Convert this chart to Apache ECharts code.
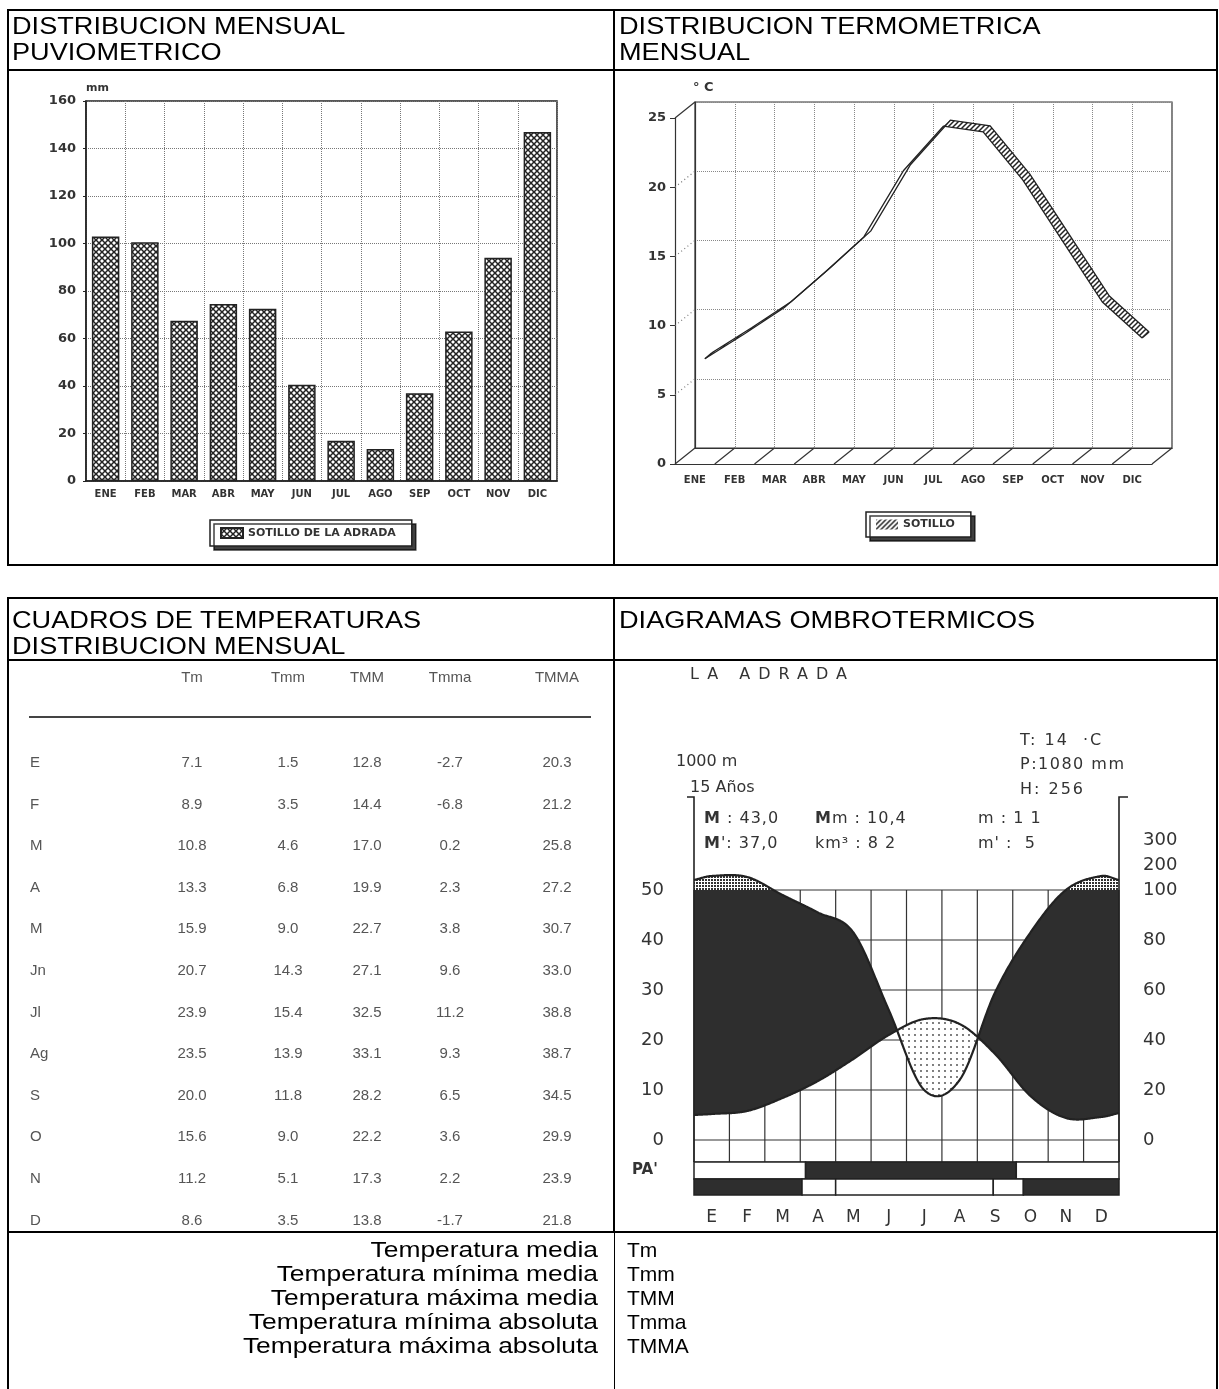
<!DOCTYPE html>
<html>
<head>
<meta charset="utf-8">
<script src="https://cdn.jsdelivr.net/npm/echarts@6/dist/echarts.min.js"></script>
<style>
html, body { margin: 0; padding: 0; background: #fff; }
#page { position: relative; width: 1219px; height: 1389px; overflow: hidden; font-family: "Liberation Sans", Arial, sans-serif; }
#chart { position: absolute; left: 0; top: 0; width: 1219px; height: 1389px; z-index: 1; }
#overlay { position: absolute; left: 0; top: 0; width: 1219px; height: 1389px; z-index: 2; pointer-events: none; }
.ln { position: absolute; background: #000; }
.t { position: absolute; white-space: nowrap; }
.ttl { font-size: 23px; line-height: 26px; color: #000; transform: scaleX(1.18); transform-origin: 0 0; }
.tb { font-family: "Liberation Sans Narrow", "Liberation Sans", sans-serif; font-size: 15px; line-height: 16px; color: #555; }
.lg { font-size: 22px; line-height: 24px; color: #000; transform: scaleX(1.2); transform-origin: 100% 0; }
.lg2 { font-size: 21px; line-height: 24px; color: #000; }
.om { font-family: "DejaVu Sans", sans-serif; color: #333; font-size: 16px; line-height: 18px; }
</style>
</head>
<body>
<div id="page">
  <div id="chart"></div>
  <div id="overlay"></div>
</div>
<script>
// precipitacion mensual (mm) - Sotillo de la Adrada
const meses = ['ENE', 'FEB', 'MAR', 'ABR', 'MAY', 'JUN', 'JUL', 'AGO', 'SEP', 'OCT', 'NOV', 'DIC'];
const lluvia = [103, 100.5, 67.5, 74.5, 72.5, 40.5, 17, 13.5, 37, 63, 94, 147];

// cuadro de temperaturas
const filas = ['E', 'F', 'M', 'A', 'M', 'Jn', 'Jl', 'Ag', 'S', 'O', 'N', 'D'];
const columnas = ['Tm', 'Tmm', 'TMM', 'Tmma', 'TMMA'];
const Tm = [7.1, 8.9, 10.8, 13.3, 15.9, 20.7, 23.9, 23.5, 20.0, 15.6, 11.2, 8.6];
const Tmm = [1.5, 3.5, 4.6, 6.8, 9.0, 14.3, 15.4, 13.9, 11.8, 9.0, 5.1, 3.5];
const TMM = [12.8, 14.4, 17.0, 19.9, 22.7, 27.1, 32.5, 33.1, 28.2, 22.2, 17.3, 13.8];
const Tmma = [-2.7, -6.8, 0.2, 2.3, 3.8, 9.6, 11.2, 9.3, 6.5, 3.6, 2.2, -1.7];
const TMMA = [20.3, 21.2, 25.8, 27.2, 30.7, 33.0, 38.8, 38.7, 34.5, 29.9, 23.9, 21.8];
const leyenda = ['Temperatura media', 'Temperatura mínima media', 'Temperatura máxima media',
  'Temperatura mínima absoluta', 'Temperatura máxima absoluta'];

// diagrama ombrotermico - La Adrada
const letras = ['E', 'F', 'M', 'A', 'M', 'J', 'J', 'A', 'S', 'O', 'N', 'D'];
const tOmbro = [5.2, 5.8, 8.4, 11.8, 16.2, 21.0, 24.2, 23.2, 17.2, 8.8, 4.4, 4.6];
const pOmbro = [156, 152, 98, 91, 83, 52, 20, 24, 59, 83, 100, 156];
const tBordes = [5.0, 5.4];
const pBordes = [140, 140];
const escalaT = [0, 10, 20, 30, 40, 50];
const escalaP = { 0: '0', 20: '20', 40: '40', 60: '60', 80: '80', 100: '100', 110: '200', 120: '300' };
// PA' : [desde mes, hasta mes, 1 = negro]
const pa1 = [[0, 3.15, 0], [3.15, 9.1, 1], [9.1, 12, 0]];
const pa2 = [[0, 3.05, 1], [3.05, 4.0, 0], [4.0, 8.45, 0], [8.45, 9.3, 0], [9.3, 12, 1]];

// ---------- html: marcos, titulos, tabla ----------
const ov = document.getElementById('overlay');
let html = '';
function ln(x, y, w, h) { html += '<div class="ln" style="left:' + x + 'px;top:' + y + 'px;width:' + w + 'px;height:' + h + 'px"></div>'; }
function tx(cls, x, y, s, extra) { html += '<div class="t ' + cls + '" style="left:' + x + 'px;top:' + y + 'px;' + (extra || '') + '">' + s + '</div>'; }

// bloque superior
ln(7, 9, 1211, 2); ln(7, 9, 2, 557); ln(1216, 9, 2, 557); ln(7, 564, 1211, 2);
ln(7, 69, 1211, 2); ln(613, 9, 2, 557);
tx('ttl', 12, 13, 'DISTRIBUCION MENSUAL<br>PUVIOMETRICO');
tx('ttl', 619, 13, 'DISTRIBUCION TERMOMETRICA<br>MENSUAL');
// bloque inferior
ln(7, 597, 1211, 2); ln(7, 597, 2, 792); ln(1216, 597, 2, 792);
ln(7, 659, 1211, 2); ln(613, 597, 2, 636); ln(7, 1231, 1211, 2); ln(614, 1233, 1, 156);
tx('ttl', 12, 607, 'CUADROS DE TEMPERATURAS<br>DISTRIBUCION MENSUAL');
tx('ttl', 619, 607, 'DIAGRAMAS OMBROTERMICOS');

// tabla
const colX = [192, 288, 367, 450, 557];
const valores = [Tm, Tmm, TMM, Tmma, TMMA];
columnas.forEach((c, j) => tx('tb', colX[j] - 40, 669, c, 'width:80px;text-align:center'));
html += '<div class="ln" style="left:29px;top:716px;width:562px;height:2px;background:#444"></div>';
filas.forEach((f, i) => {
  const y = 754 + i * 41.6;
  tx('tb', 30, y, f);
  valores.forEach((col, j) => tx('tb', colX[j] - 40, y, col[i].toFixed(1), 'width:80px;text-align:center'));
});
// leyenda de abreviaturas
leyenda.forEach((s, i) => {
  const y = 1238 + i * 24;
  tx('lg', 100, y, s, 'width:498px;text-align:right');
  tx('lg2', 627, y, columnas[i]);
});
// textos del ombrotermico
tx('om', 690, 665, 'LA ADRADA', 'letter-spacing:8px');
tx('om', 1020, 731, 'T:&nbsp;14&nbsp;&nbsp;·C', 'letter-spacing:2px');
tx('om', 676, 752, '1000 m');
tx('om', 1020, 755, 'P:1080 mm', 'letter-spacing:1.5px');
tx('om', 690, 778, '15 Años');
tx('om', 1020, 780, 'H:&nbsp;256', 'letter-spacing:2px');
tx('om', 704, 809, '<b>M</b> : 43,0', 'letter-spacing:1px');
tx('om', 815, 809, '<b>M</b>m : 10,4', 'letter-spacing:1px');
tx('om', 978, 809, 'm : 1 1', 'letter-spacing:1px');
tx('om', 704, 834, '<b>M</b>\': 37,0', 'letter-spacing:1px');
tx('om', 815, 834, 'km³ : 8 2', 'letter-spacing:1px');
tx('om', 978, 834, 'm\' :&nbsp;&nbsp;5', 'letter-spacing:1px');
tx('om', 632, 1160, '<b>PA\'</b>', 'font-size:15px');
ov.innerHTML = html;

// ---------- tramas ----------
function trama(size, draw) {
  const c = document.createElement('canvas');
  c.width = c.height = size;
  const g = c.getContext('2d');
  g.fillStyle = '#fff';
  g.fillRect(0, 0, size, size);
  draw(g, size);
  return { image: c, repeat: 'repeat' };
}
const patCruz = trama(6, (g, s) => {
  g.strokeStyle = '#222'; g.lineWidth = 1.5;
  g.beginPath(); g.moveTo(0, 0); g.lineTo(s, s); g.moveTo(s, 0); g.lineTo(0, s); g.stroke();
});
const patRayas = trama(5, (g, s) => {
  g.strokeStyle = '#222'; g.lineWidth = 1.5;
  g.beginPath(); g.moveTo(0, s); g.lineTo(s, 0); g.moveTo(-1, 1); g.lineTo(1, -1); g.moveTo(s - 1, s + 1); g.lineTo(s + 1, s - 1); g.stroke();
});
const patPuntos = trama(6, (g) => {
  g.fillStyle = '#444'; g.beginPath(); g.arc(3, 3, 0.9, 0, Math.PI * 2); g.fill();
});
const patDenso = trama(3, (g) => {
  g.fillStyle = '#333'; g.fillRect(0, 0, 2, 2);
});

// ---------- funciones de dibujo ----------
const FONDO = [20, -16];     // profundidad del grafico 3d
const DESP = [-3, 3];
const ANCHO = [-7, 6];
const NEGRO = '#2e2e2e';

function renderSuelo(params, api) {
  const n = meses.length;
  const bw = api.size([1, 0])[0];
  const kids = [];
  for (let k = 0; k <= n; k++) {
    const c = api.coord([Math.min(k, n - 1), 0]);
    const x = k < n ? c[0] - bw / 2 : c[0] + bw / 2;
    kids.push({ type: 'line', shape: { x1: x, y1: c[1], x2: x + FONDO[0], y2: c[1] + FONDO[1] }, style: { stroke: '#333', lineWidth: 1.2 } });
  }
  const x0 = api.coord([0, 0])[0] - bw / 2;
  for (let v = 5; v <= 25; v += 5) {
    const y = api.coord([0, v])[1];
    kids.push({
      type: 'line', shape: { x1: x0, y1: y, x2: x0 + FONDO[0], y2: y + FONDO[1] },
      style: v === 25 ? { stroke: '#333', lineWidth: 1.2 } : { stroke: '#777', lineWidth: 1.2, lineDash: [1, 3] }
    });
  }
  return { type: 'group', children: kids };
}

function renderCinta(params, api) {
  const i = params.dataIndex;
  const pts = Tm.map((v, k) => {
    const c = api.coord([k, v]);
    return [c[0] + DESP[0], c[1] + DESP[1]];
  });
  const fr = pts.map(p => [p[0] + ANCHO[0], p[1] + ANCHO[1]]);
  if (i < Tm.length - 1) {
    const A = pts[i], B = pts[i + 1];
    const s = (B[1] - A[1]) / (B[0] - A[0]);
    const visible = ANCHO[1] - s * ANCHO[0] > 0;
    return { type: 'polygon', shape: { points: [A, B, fr[i + 1], fr[i]] }, style: { fill: visible ? patRayas : '#fff', stroke: null } };
  }
  const n = pts.length - 1;
  return {
    type: 'group', children: [
      { type: 'polyline', shape: { points: pts }, style: { stroke: '#222', lineWidth: 1.3, fill: null } },
      { type: 'polyline', shape: { points: fr }, style: { stroke: '#222', lineWidth: 1.3, fill: null } },
      { type: 'line', shape: { x1: pts[0][0], y1: pts[0][1], x2: fr[0][0], y2: fr[0][1] }, style: { stroke: '#222', lineWidth: 1.3 } },
      { type: 'line', shape: { x1: pts[n][0], y1: pts[n][1], x2: fr[n][0], y2: fr[n][1] }, style: { stroke: '#222', lineWidth: 1.3 } }
    ]
  };
}

// curva suave (hermite) por los puntos mensuales
function curva(xs, ys) {
  const n = xs.length, m = [];
  for (let i = 0; i < n; i++) {
    if (i === 0) m.push((ys[1] - ys[0]) / (xs[1] - xs[0]));
    else if (i === n - 1) m.push((ys[n - 1] - ys[n - 2]) / (xs[n - 1] - xs[n - 2]));
    else m.push((ys[i + 1] - ys[i - 1]) / (xs[i + 1] - xs[i - 1]));
  }
  return function (x) {
    let i = 0;
    while (i < n - 2 && x > xs[i + 1]) i++;
    const h = xs[i + 1] - xs[i], t = (x - xs[i]) / h, t2 = t * t, t3 = t2 * t;
    return (2 * t3 - 3 * t2 + 1) * ys[i] + (t3 - 2 * t2 + t) * h * m[i] + (-2 * t3 + 3 * t2) * ys[i + 1] + (t3 - t2) * h * m[i + 1];
  };
}
// precipitacion en unidades del eje de temperatura (escala 1/10 sobre 100 mm)
function pEscala(p) { return p <= 100 ? p / 2 : 50 + (p - 100) / 20; }

function renderOmbro(params, api) {
  const xs = [0].concat(tOmbro.map((v, i) => i + 0.5), [12]);
  const fT = curva(xs, [tBordes[0]].concat(tOmbro, [tBordes[1]]));
  const fP = curva(xs, [pEscala(pBordes[0])].concat(pOmbro.map(pEscala), [pEscala(pBordes[1])]));
  const N = 600;
  const kids = [];
  const c = (x, v) => api.coord([x, v]);
  const base = -4.4;

  // cuadricula
  for (let k = 0; k <= 12; k++) {
    const a = c(k, base), b = c(k, 50);
    kids.push({ type: 'line', shape: { x1: a[0], y1: a[1], x2: b[0], y2: b[1] }, style: { stroke: '#333', lineWidth: 1.2 } });
  }
  [base, 0, 10, 20, 30, 40, 50].forEach(v => {
    const a = c(0, v), b = c(12, v);
    kids.push({ type: 'line', shape: { x1: a[0], y1: a[1], x2: b[0], y2: b[1] }, style: { stroke: '#333', lineWidth: 1.2 } });
  });

  function bandas(lo, hi, fill) {
    let cur = null;
    const runs = [];
    for (let k = 0; k <= N; k++) {
      const x = 12 * k / N, a = lo(x), b = hi(x);
      if (b > a) { (cur = cur || []).push([x, a, b]); }
      else if (cur) { runs.push(cur); cur = null; }
    }
    if (cur) runs.push(cur);
    runs.forEach(r => {
      const top = r.map(p => c(p[0], p[2]));
      const bot = r.slice().reverse().map(p => c(p[0], p[1]));
      kids.push({ type: 'polygon', shape: { points: top.concat(bot) }, style: { fill: fill, stroke: null } });
    });
  }
  bandas(fT, x => Math.min(fP(x), 50), NEGRO);      // periodo humedo
  bandas(() => 50, fP, patDenso);                  // > 100 mm
  bandas(fP, fT, patPuntos);                       // periodo seco

  const lineaT = [], lineaP = [];
  for (let k = 0; k <= N; k++) {
    const x = 12 * k / N;
    lineaT.push(c(x, fT(x)));
    lineaP.push(c(x, fP(x)));
  }
  kids.push({ type: 'polyline', shape: { points: lineaT }, style: { stroke: '#222', lineWidth: 2.2, fill: null } });
  kids.push({ type: 'polyline', shape: { points: lineaP }, style: { stroke: '#222', lineWidth: 2.2, fill: null } });

  // corchetes laterales
  [[0, -7], [12, 9]].forEach(([x, d]) => {
    const a = c(x, 68.6), b = c(x, base);
    kids.push({ type: 'polyline', shape: { points: [[a[0] + d, a[1]], a, b] }, style: { stroke: '#222', lineWidth: 1.6, fill: null } });
  });

  // filas PA'
  [[pa1, base, -7.8], [pa2, -7.8, -11]].forEach(([fila, v0, v1]) => {
    fila.forEach(s => {
      const a = c(s[0], v0), b = c(s[1], v1);
      kids.push({
        type: 'rect', shape: { x: a[0], y: a[1], width: b[0] - a[0], height: b[1] - a[1] },
        style: { fill: s[2] ? NEGRO : '#fff', stroke: '#222', lineWidth: 1.5 }
      });
    });
  });
  return { type: 'group', children: kids };
}

// ---------- grafico ----------
const chart = echarts.init(document.getElementById('chart'), null, { renderer: 'canvas' });
const fBold = { fontFamily: 'DejaVu Sans', fontWeight: 'bold', color: '#333' };
const fOmbro = { fontFamily: 'DejaVu Sans', fontSize: 18, color: '#333' };
const cajaLeyenda = {
  icon: 'rect', itemWidth: 22, itemHeight: 10, padding: [7, 16, 7, 10],
  borderColor: '#222', borderWidth: 1.5, backgroundColor: '#fff',
  shadowColor: 'rgba(0,0,0,0.75)', shadowOffsetX: 4, shadowOffsetY: 4, shadowBlur: 0,
  textStyle: Object.assign({ fontSize: 11 }, fBold), selectedMode: false
};

const option = {
  animation: false,
  backgroundColor: 'transparent',
  grid: [
    { left: 86, top: 101, width: 471, height: 380, show: true, borderColor: '#222', borderWidth: 1.5, outerBoundsMode: 'none' },
    { left: 675, top: 118, width: 477, height: 346, outerBoundsMode: 'none' },
    { left: 695, top: 102, width: 477, height: 346, show: true, borderColor: '#333', borderWidth: 1.2, outerBoundsMode: 'none' },
    { left: 694, top: 790, width: 425, height: 400, outerBoundsMode: 'none' }
  ],
  legend: [
    Object.assign({ data: ['SOTILLO DE LA ADRADA'], left: 210, top: 520 }, cajaLeyenda),
    Object.assign({ data: ['SOTILLO'], left: 866, top: 512 }, cajaLeyenda)
  ],
  xAxis: [
    {
      gridIndex: 0, type: 'category', data: meses,
      axisLine: { lineStyle: { color: '#222', width: 1.5 } }, axisTick: { show: false },
      axisLabel: Object.assign({ margin: 8, fontSize: 10, interval: 0 }, fBold),
      splitLine: { show: true, interval: 0, lineStyle: { type: 'dotted', color: '#777' } }
    },
    {
      gridIndex: 1, type: 'category', data: meses,
      axisLine: { lineStyle: { color: '#333', width: 1.2 } },
      axisTick: { alignWithLabel: true, length: 5, interval: 0, lineStyle: { color: '#333' } },
      axisLabel: Object.assign({ margin: 11, fontSize: 10, interval: 0 }, fBold),
      splitLine: { show: false }
    },
    {
      gridIndex: 2, type: 'category', data: meses,
      axisLine: { lineStyle: { color: '#333', width: 1.2 } }, axisTick: { show: false }, axisLabel: { show: false },
      splitLine: { show: true, interval: 0, lineStyle: { type: 'dotted', color: '#888' } }
    },
    { gridIndex: 3, type: 'value', min: 0, max: 12, show: false },
    {
      gridIndex: 3, type: 'category', data: letras, position: 'bottom',
      axisLine: { show: false }, axisTick: { show: false },
      axisLabel: Object.assign({ margin: 19, interval: 0 }, fOmbro, { fontSize: 17 }), splitLine: { show: false }
    }
  ],
  yAxis: [
    {
      gridIndex: 0, type: 'value', min: 0, max: 160, interval: 20,
      name: 'mm', nameLocation: 'end', nameGap: 7,
      nameTextStyle: Object.assign({ fontSize: 11, align: 'left' }, fBold),
      axisLine: { show: true, lineStyle: { color: '#222', width: 1.5 } },
      axisTick: { show: true, length: 3, lineStyle: { color: '#222' } },
      axisLabel: Object.assign({ margin: 10, fontSize: 13 }, fBold),
      splitLine: { lineStyle: { type: 'dotted', color: '#777' } }
    },
    {
      gridIndex: 1, type: 'value', min: 0, max: 25, interval: 5,
      name: '° C', nameLocation: 'end', nameGap: 24,
      nameTextStyle: Object.assign({ fontSize: 13, align: 'left', padding: [0, 0, 0, 18] }, fBold),
      axisLine: { show: true, lineStyle: { color: '#333', width: 1.2 } },
      axisTick: { show: true, length: 5, lineStyle: { color: '#333' } },
      axisLabel: Object.assign({ margin: 9, fontSize: 13 }, fBold),
      splitLine: { show: false }
    },
    {
      gridIndex: 2, type: 'value', min: 0, max: 25, interval: 5,
      axisLine: { show: true, lineStyle: { color: '#333', width: 1.2 } }, axisTick: { show: false }, axisLabel: { show: false },
      splitLine: { lineStyle: { type: 'dotted', color: '#888' } }
    },
    {
      gridIndex: 3, type: 'value', min: -10, max: 70, interval: 10,
      axisLine: { show: false }, axisTick: { show: false }, splitLine: { show: false },
      axisLabel: Object.assign({ margin: 30, formatter: v => escalaT.includes(v) ? String(v) : '' }, fOmbro)
    },
    {
      gridIndex: 3, type: 'value', position: 'right', min: -20, max: 140, interval: 10,
      axisLine: { show: false }, axisTick: { show: false }, splitLine: { show: false },
      axisLabel: Object.assign({ margin: 24, formatter: v => escalaP[v] || '' }, fOmbro)
    }
  ],
  series: [
    {
      name: 'SOTILLO DE LA ADRADA', type: 'bar', xAxisIndex: 0, yAxisIndex: 0, data: lluvia, barWidth: '70%',
      itemStyle: { color: patCruz, borderColor: '#222', borderWidth: 1.5 }
    },
    { type: 'custom', xAxisIndex: 1, yAxisIndex: 1, data: [[0, 0]], renderItem: renderSuelo, silent: true, z: 1 },
    {
      name: 'SOTILLO', type: 'custom', xAxisIndex: 2, yAxisIndex: 2, data: Tm.map((v, i) => [i, v]),
      renderItem: renderCinta, itemStyle: { color: patRayas }, z: 5
    },
    { type: 'custom', xAxisIndex: 3, yAxisIndex: 3, data: [[6, 20]], renderItem: renderOmbro, silent: true, z: 2 }
  ]
};
chart.setOption(option);
</script>
</body>
</html>
